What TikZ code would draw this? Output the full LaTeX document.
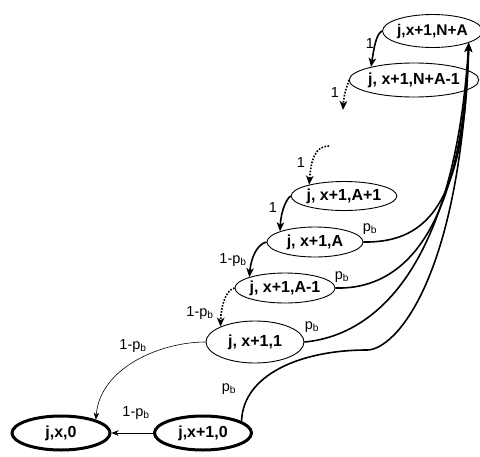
\documentclass[tikz,border=0pt]{standalone}
\usepackage{fontspec}
\setmainfont{Liberation Sans}
\usetikzlibrary{shapes.geometric,arrows.meta}
\begin{document}
\begin{tikzpicture}[x=1pt,y=-1pt,
 state/.style={ellipse,draw,line width=0.9pt,inner sep=0pt,minimum width=96pt,minimum height=30pt,font=\fontsize{16}{19}\selectfont\bfseries},
 endstate/.style={state,line width=3pt},
 lab/.style={font=\fontsize{14.5}{17}\selectfont,inner sep=0pt},
 arrowtip/.style={-{Stealth[length=9pt,width=7.5pt,inset=2.5pt]}},
 smalltip/.style={-{Stealth[length=7pt,width=5.5pt,inset=2pt]}},
 medline/.style={line width=1.6pt,arrowtip},
 dotline/.style={line width=1.6pt,dash pattern=on 1.6pt off 1.5pt,arrowtip},
 thinline/.style={line width=0.6pt,smalltip}]
\useasboundingbox (0,0) rectangle (480,456);

% states
\node[state,minimum width=93pt,minimum height=33pt,font=\fontsize{15.5}{18}\selectfont\bfseries] (NA) at (432.5,31) {j,x+1,N+A};
\node[state,minimum width=108pt,minimum height=34pt] (NA1) at (414,80) {j, x+1,N+A-1};
\node[state,minimum width=95pt,minimum height=29pt] (A1) at (344,196) {j, x+1,A+1};
\node[state] (A) at (315,242) {j, x+1,A};
\node[state] (Am1) at (285,288) {j, x+1,A-1};
\node[state,minimum width=98pt,minimum height=42pt] (One) at (255,342) {j, x+1,1};
\node[endstate,minimum width=97pt,minimum height=34pt] (Zero) at (203,433) {j,x+1,0};
\node[endstate,minimum width=98pt,minimum height=34pt] (X0) at (61,433) {j,x,0};

% free ends of dotted arrows
\coordinate (e2) at (343,110);
\coordinate (s3) at (329,146);

% downward chain
\draw[medline] (NA.west) .. controls (376,34) and (374,48) .. (NA1.163);
\draw[dotline] (NA1.west) .. controls (350,80) and (344,90) .. (e2);
\draw[dotline] (s3) .. controls (315,146) and (311,160) .. (A1.162);
\draw[medline] (A1.west) .. controls (287,198) and (281,210) .. (A.163);
\draw[medline] (A.west) .. controls (257,244) and (251,258) .. (Am1.163);
\draw[dotline] (Am1.west) .. controls (226,290) and (221,305) .. (One.156);
\draw[thinline] (One.west) .. controls (160,342) and (100,368) .. (X0.21);
\draw[thinline] (Zero.west) -- (X0.east);

% curves up to N+A
\draw[medline] (A.east) .. controls (430,243) and (465,200) .. (NA.-18);
\draw[medline] (Am1.east) .. controls (410,290) and (462,220) .. (NA.-18);
\draw[medline] (One.east) .. controls (380,335) and (455,260) .. (NA.-18);
\draw[medline] (Zero.17) .. controls (243,375) and (300,350) .. (367,350)
   .. controls (395,350) and (460,280) .. (NA.-18);

% labels
\node[lab] (l1) at (370,44) {1};
\node[lab] (l2) at (335,93) {1};
\node[lab] (l3) at (301,163) {1};
\node[lab] (l4) at (273,208) {1};
\node[lab] (l5) at (233,260) {1-p\textsubscript{b}};
\node[lab] (l6) at (200,313) {1-p\textsubscript{b}};
\node[lab] (l7) at (133,346) {1-p\textsubscript{b}};
\node[lab] (l8) at (136,413) {1-p\textsubscript{b}};
\node[lab] (p1) at (370,229) {p\textsubscript{b}};
\node[lab] (p2) at (342,277) {p\textsubscript{b}};
\node[lab] (p3) at (312,327) {p\textsubscript{b}};
\node[lab] (p4) at (229,389) {p\textsubscript{b}};
\end{tikzpicture}
\end{document}
